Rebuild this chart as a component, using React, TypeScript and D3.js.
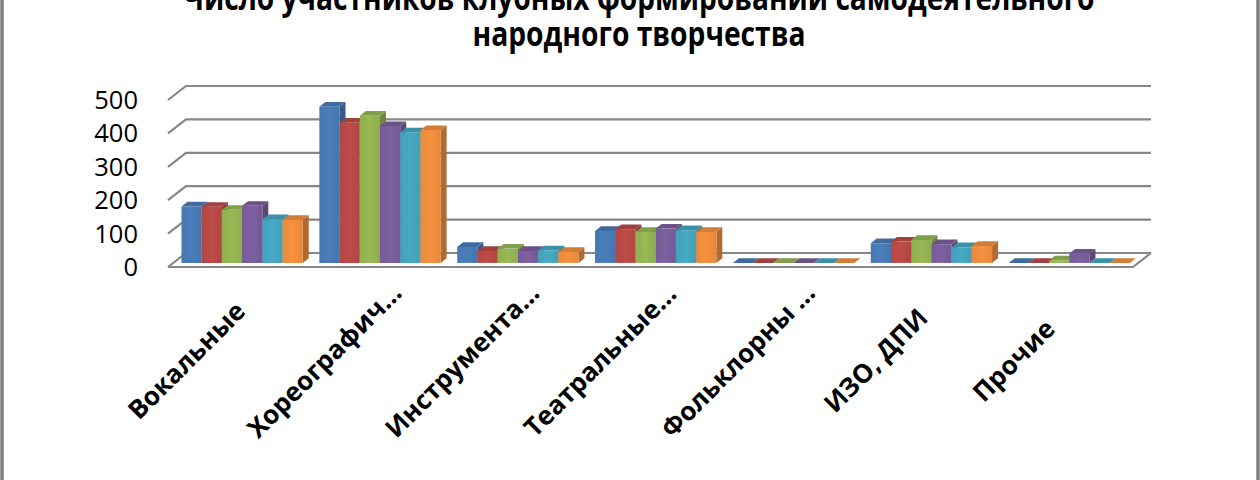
import React from 'react'
import * as d3 from 'd3'

// category labels as shown (Excel truncates the long ones)
const categories = ['Вокальные', 'Хореографич…', 'Инструмента…', 'Театральные…', 'Фольклорны …', 'ИЗО, ДПИ', 'Прочие']

// six series, one value per category
const series1 = [169, 468, 48, 96, 0, 59, 0]
const series2 = [168, 420, 36, 101, 0, 64, 0]
const series3 = [159, 441, 43, 93, 0, 69, 8]
const series4 = [171, 410, 36, 103, 0, 56, 28]
const series5 = [131, 391, 38, 98, 0, 47, 0]
const series6 = [129, 398, 33, 93, 0, 51, 0]

const seriesColors = ['#4a7ebb', '#be4b48', '#98b954', '#7d60a0', '#46aac5', '#f69240']
const yTicks = [0, 100, 200, 300, 400, 500]
const titleLines = ['Число участников клубных формирований самодеятельного', 'народного творчества']

const W = 1260
const H = 480
const DX = 18   // depth offset in px (x)
const DY = -14  // depth offset in px (y)
const Z0 = 0.29 // bar front depth
const Z1 = 0.62 // bar back depth

const App = () => {
    const allSeries = [series1, series2, series3, series4, series5, series6]

    const x = d3.scaleBand<string>().domain(categories).range([168, 1133]).paddingInner(0.12).paddingOuter(0.06)
    const xs = d3.scaleBand<number>().domain(d3.range(allSeries.length)).range([0, x.bandwidth()])
    const y = d3.scaleLinear().domain([0, 500]).range([267, 100])

    const [x0, x1] = x.range()
    const p = (px: number, v: number, z: number) => [px + z * DX, y(v) + z * DY]
    const poly = (pts: number[][]) => 'M' + pts.map(q => q.join(',')).join('L') + 'Z'
    const line = (pts: number[][]) => 'M' + pts.map(q => q.join(',')).join('L')

    const bars: JSX.Element[] = []
    categories.forEach((c, ci) => {
        allSeries.forEach((s, si) => {
            const v = s[ci]
            const l = (x(c) as number) + (xs(si) as number)
            const r = l + xs.bandwidth()
            const col = d3.color(seriesColors[si])!
            const front = poly([p(l, 0, Z0), p(r, 0, Z0), p(r, v, Z0), p(l, v, Z0)])
            const top = poly([p(l, v, Z0), p(r, v, Z0), p(r, v, Z1), p(l, v, Z1)])
            const side = poly([p(r, 0, Z0), p(r, 0, Z1), p(r, v, Z1), p(r, v, Z0)])
            bars.push(
                <g key={c + si}>
                    <path d={side} fill={col.darker(0.9).toString()} />
                    <path d={top} fill={col.darker(0.45).toString()} />
                    <path d={front} fill={`url(#grad${si})`} />
                </g>
            )
        })
    })

    return (
        <svg width={W} height={H} style={{ position: 'absolute', left: 0, top: 0, background: '#fff' }}>
            <defs>
                {seriesColors.map((c, i) => (
                    <linearGradient key={i} id={`grad${i}`} x1="0" x2="1" y1="0" y2="0">
                        <stop offset="0" stopColor={d3.color(c)!.darker(0.15).toString()} />
                        <stop offset="0.5" stopColor={c} />
                        <stop offset="1" stopColor={d3.color(c)!.darker(0.2).toString()} />
                    </linearGradient>
                ))}
            </defs>

            <rect x={2} y={-10} width={W - 4} height={H + 20} fill="none" stroke="#808080" strokeWidth={3.5} />

            {titleLines.map((t, i) => (
                <text key={i} x={639} y={10 + i * 36} textAnchor="middle" fontFamily="Open Sans" fontWeight={700}
                    fontSize={34} textLength={i === 0 ? 911 : 333} lengthAdjust="spacingAndGlyphs" fill="#000">{t}</text>
            ))}

            {/* side wall, back wall and floor */}
            <g fill="none" stroke="#878787" strokeWidth={2.2}>
                {yTicks.map(t => (
                    <path key={t} d={line([p(x0, t, 0), p(x0, t, 1), p(x1, t, 1)])} />
                ))}
                <path d={line([p(x0, 0, 0), p(x1, 0, 0), p(x1, 0, 1)])} />
            </g>

            {yTicks.map(t => (
                <text key={t} x={138} y={y(t) + 9} textAnchor="end" fontFamily="Open Sans" fontSize={25.5} fill="#000">{t}</text>
            ))}

            {bars}

            {categories.map(c => {
                const cx = (x(c) as number) + x.bandwidth() / 2 - 44
                const cy = 367
                return (
                    <text key={c} x={cx} y={cy} transform={`rotate(-45 ${cx} ${cy})`} textAnchor="middle"
                        fontFamily="Open Sans" fontWeight={700} fontSize={26} fill="#000">{c}</text>
                )
            })}
        </svg>
    )
}

export default App
